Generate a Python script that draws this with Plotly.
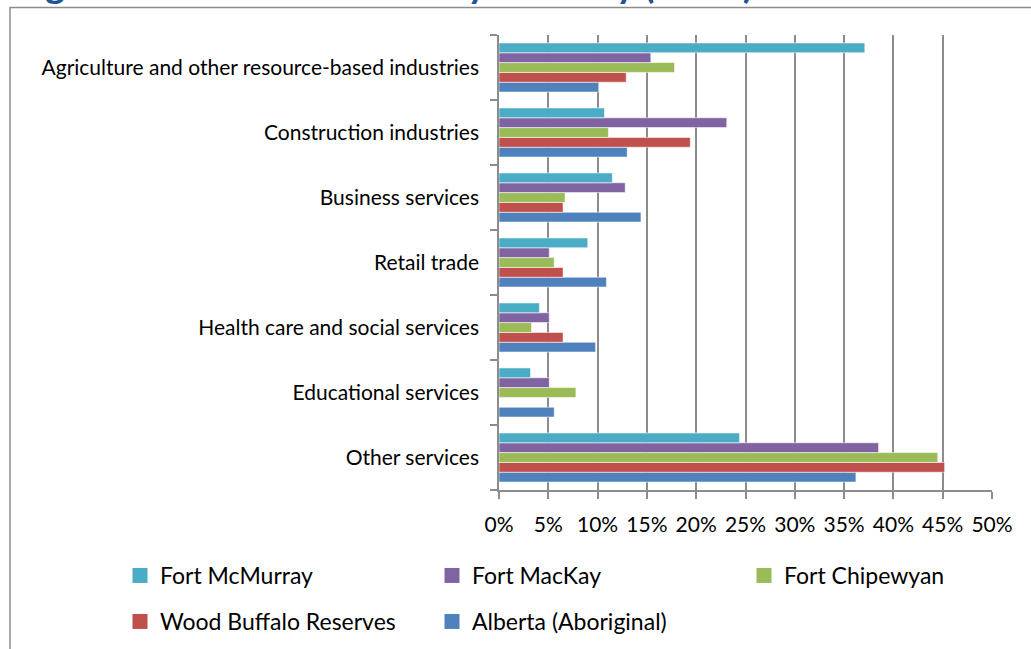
import plotly.graph_objects as go

# Industries, listed top to bottom as they appear on the chart
industries = [
    "Agriculture and other resource-based industries",
    "Construction industries",
    "Business services",
    "Retail trade",
    "Health care and social services",
    "Educational services",
    "Other services",
]

# Share of the labour force (%) in each industry
fort_mcmurray = [37.1, 10.7, 11.5, 9.0, 4.1, 3.2, 24.4]
fort_mackay = [15.4, 23.1, 12.8, 5.1, 5.1, 5.1, 38.5]
fort_chipewyan = [17.8, 11.1, 6.7, 5.6, 3.3, 7.8, 44.5]
wood_buffalo_reserves = [12.9, 19.4, 6.5, 6.5, 6.5, 0.0, 45.2]
alberta_aboriginal = [10.1, 13.0, 14.4, 10.9, 9.8, 5.6, 36.2]

x_ticks = list(range(0, 51, 5))

# Page geometry (pixels) used to place the plot area and decorations
W, H = 1031, 649
PLOT_L, PLOT_R, PLOT_T, PLOT_B = 499, 992, 35, 490


def px_x(x):
    return (x - PLOT_L) / (PLOT_R - PLOT_L)


def px_y(y):
    return (PLOT_B - y) / (PLOT_B - PLOT_T)


FONT = "Lato, Carlito, Calibri, sans-serif"
GRID = "#8c8c8c"
TITLE_BLUE = "#1F5597"

# Bars are drawn bottom-up within each group, so the series are added in that order
series = [
    ("Alberta (Aboriginal)", alberta_aboriginal, "#4F81BD", "legend2", 2),
    ("Wood Buffalo Reserves", wood_buffalo_reserves, "#C0504D", "legend2", 1),
    ("Fort Chipewyan", fort_chipewyan, "#9BBB59", "legend", 3),
    ("Fort MacKay", fort_mackay, "#8064A2", "legend", 2),
    ("Fort McMurray", fort_mcmurray, "#4BACC6", "legend", 1),
]

fig = go.Figure()
for name, values, color, legend, rank in series:
    fig.add_trace(
        go.Bar(
            name=name,
            x=values,
            y=industries,
            orientation="h",
            marker=dict(color=color, line=dict(color="rgba(255,255,255,0.55)", width=1)),
            showlegend=False,
            legendgroup=name,
        )
    )
    # Legend key: a plain square swatch tied to the bar series
    fig.add_trace(
        go.Scatter(
            name=name,
            x=[None],
            y=[None],
            mode="markers",
            marker=dict(symbol="square", size=15, color=color),
            legend=legend,
            legendrank=rank,
            legendgroup=name,
            hoverinfo="skip",
        )
    )

legend_common = dict(
    orientation="h",
    xanchor="left",
    yanchor="top",
    entrywidth=267,
    font=dict(size=23, family=FONT, color="#000000"),
    bgcolor="rgba(0,0,0,0)",
    itemclick=False,
    itemdoubleclick=False,
)

fig.update_layout(
    width=W,
    height=H,
    autosize=False,
    margin=dict(l=PLOT_L, r=W - PLOT_R, t=PLOT_T, b=H - PLOT_B, autoexpand=False),
    paper_bgcolor="white",
    plot_bgcolor="white",
    font=dict(family=FONT, color="#000000"),
    barmode="group",
    bargap=0.245,
    bargroupgap=0,
    legend=dict(x=px_x(120), y=px_y(554), **legend_common),
    legend2=dict(x=px_x(120), y=px_y(600), **legend_common),
    xaxis=dict(
        range=[0, 50],
        tickvals=x_ticks,
        ticktext=[f"{v}%" for v in x_ticks],
        showgrid=True,
        gridcolor=GRID,
        gridwidth=1.5,
        zeroline=False,
        showline=True,
        linecolor=GRID,
        linewidth=1.5,
        ticks="outside",
        ticklen=7,
        tickwidth=1.5,
        tickcolor=GRID,
        tickfont=dict(size=21, family=FONT, color="#000000"),
        ticklabelstandoff=8,
        fixedrange=True,
    ),
    yaxis=dict(
        type="category",
        categoryorder="array",
        categoryarray=industries[::-1],
        showgrid=False,
        zeroline=False,
        showline=True,
        linecolor=GRID,
        linewidth=1.5,
        ticks="outside",
        tickson="boundaries",
        ticklen=7,
        tickwidth=1.5,
        tickcolor=GRID,
        tickfont=dict(size=21, family=FONT, color="#000000"),
        ticklabelstandoff=14,
        fixedrange=True,
    ),
    shapes=[
        dict(
            type="rect",
            xref="paper",
            yref="paper",
            x0=px_x(10),
            x1=px_x(1045),
            y0=px_y(665),
            y1=px_y(7.5),
            line=dict(color="#8c8c8c", width=1.5),
            fillcolor="rgba(0,0,0,0)",
            layer="below",
        )
    ],
    annotations=[
        dict(
            text="<b>Figure 10: Labour Force</b>",
            xref="paper",
            yref="paper",
            x=px_x(12),
            y=px_y(8.5),
            xanchor="left",
            yanchor="bottom",
            showarrow=False,
            font=dict(size=38, family=FONT, color=TITLE_BLUE),
        ),
        dict(
            text="<b>by Industry (2006)</b>",
            xref="paper",
            yref="paper",
            x=px_x(444),
            y=px_y(8.5),
            xanchor="left",
            yanchor="bottom",
            showarrow=False,
            font=dict(size=38, family=FONT, color=TITLE_BLUE),
        ),
    ],
)

fig.write_html("out.html")
